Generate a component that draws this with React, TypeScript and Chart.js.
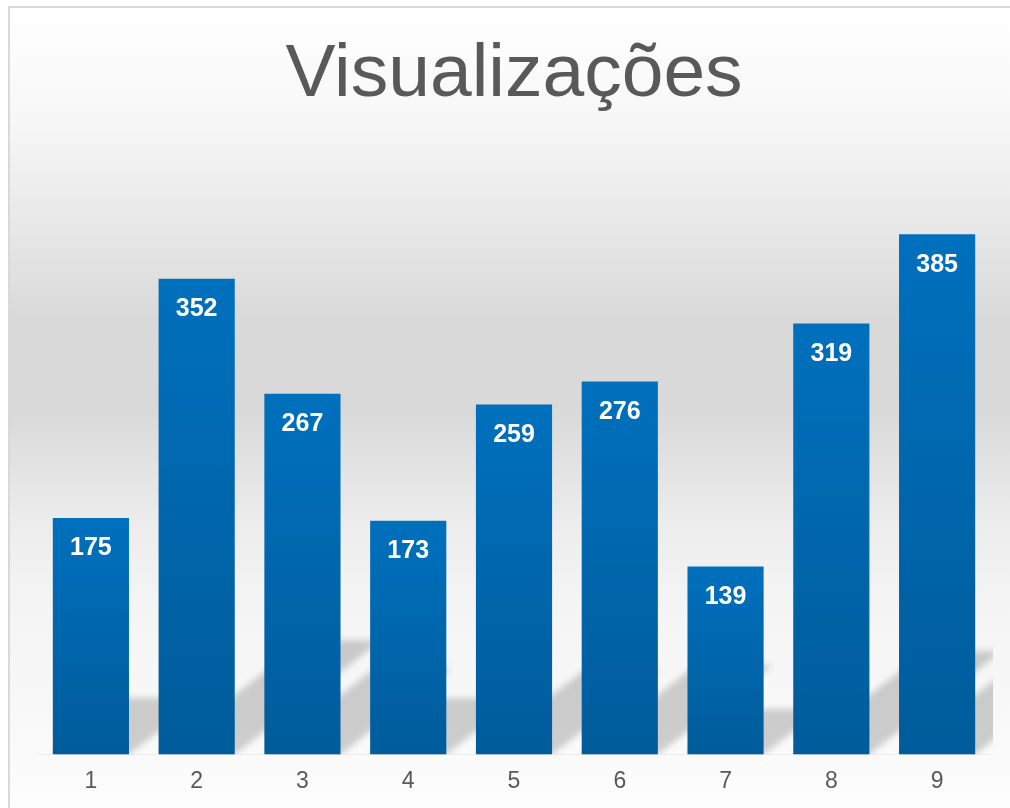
import React, { useEffect, useRef } from "react";
import { Chart, registerables } from "chart.js";

Chart.register(...registerables);

const categories = ["1", "2", "3", "4", "5", "6", "7", "8", "9"];
const views = [175, 352, 267, 173, 259, 276, 139, 319, 385];
const titleText = "Visualizações";
const yMax = 450;

const FONT = "'Liberation Sans', Arial, sans-serif";

const backgroundPlugin = {
  id: "bgFrame",
  beforeDraw(chart: any) {
    const { ctx, width, height } = chart;
    ctx.save();
    ctx.fillStyle = "#ffffff";
    ctx.fillRect(0, 0, width, height);
    const g = ctx.createLinearGradient(0, 8, 0, height);
    const h = height - 8;
    const stop = (y: number) => Math.min(1, Math.max(0, (y - 8) / h));
    g.addColorStop(0, "#ffffff");
    g.addColorStop(stop(120), "#f7f7f7");
    g.addColorStop(stop(250), "#e4e4e4");
    g.addColorStop(stop(320), "#d9d9d9");
    g.addColorStop(stop(410), "#d9d9d9");
    g.addColorStop(stop(520), "#ececec");
    g.addColorStop(stop(600), "#f4f4f4");
    g.addColorStop(stop(753), "#fafafa");
    g.addColorStop(1, "#fdfdfd");
    ctx.fillStyle = g;
    ctx.fillRect(9, 7, width, height);
    ctx.strokeStyle = "#d9d9d9";
    ctx.lineWidth = 2;
    ctx.strokeRect(9, 7, width + 20, height + 20);
    ctx.restore();
  },
};

const shadowPlugin = {
  id: "barShadows",
  beforeDatasetsDraw(chart: any) {
    const { ctx, chartArea } = chart;
    const meta = chart.getDatasetMeta(0);
    ctx.save();
    ctx.beginPath();
    ctx.rect(chartArea.left, chartArea.top, chartArea.right - chartArea.left + 3, chartArea.bottom - chartArea.top);
    ctx.clip();
    ctx.filter = "blur(3px)";
    ctx.fillStyle = "rgba(0,0,0,0.18)";
    meta.data.forEach((el: any) => {
      const { x, y, base, width } = el.getProps(["x", "y", "base", "width"], true);
      const x0 = x - width / 2;
      const x1 = x + width / 2;
      const hgt = base - y;
      const sh = 0.24 * hgt;
      const off = sh / 0.78;
      ctx.beginPath();
      ctx.moveTo(x0, base);
      ctx.lineTo(x1, base);
      ctx.lineTo(x1 + off, base - sh);
      ctx.lineTo(x0 + off, base - sh);
      ctx.closePath();
      ctx.fill();
    });
    ctx.restore();
  },
};

const labelPlugin = {
  id: "barLabels",
  afterDatasetsDraw(chart: any) {
    const { ctx } = chart;
    const meta = chart.getDatasetMeta(0);
    const data = chart.data.datasets[0].data;
    ctx.save();
    ctx.fillStyle = "#ffffff";
    ctx.font = `bold 25px ${FONT}`;
    ctx.textAlign = "center";
    ctx.textBaseline = "middle";
    meta.data.forEach((el: any, i: number) => {
      const { x, y } = el.getProps(["x", "y"], true);
      ctx.fillText(String(data[i]), x, y + 30.5);
    });
    ctx.restore();
  },
};

export default function App() {
  const ref = useRef<HTMLCanvasElement | null>(null);
  useEffect(() => {
    if (!ref.current) return;
    const chart = new Chart(ref.current, {
      type: "bar",
      data: {
        labels: categories,
        datasets: [
          {
            data: views,
            backgroundColor: (c: any) => {
              const ch = c.chart;
              const ys = ch.scales?.y;
              if (!ys || c.raw == null) return "#0068b0";
              const top = ys.getPixelForValue(c.raw);
              const bot = ys.getPixelForValue(0);
              if (!isFinite(top) || !isFinite(bot) || top === bot) return "#0068b0";
              const g = ch.ctx.createLinearGradient(0, top, 0, bot);
              g.addColorStop(0, "#0070bd");
              g.addColorStop(1, "#005c9b");
              return g;
            },
            borderWidth: 0,
            barPercentage: 0.72,
            categoryPercentage: 1,
          },
        ],
      },
      options: {
        responsive: false,
        animation: false,
        layout: { padding: { left: 38, right: 20, top: 0, bottom: 0 } },
        plugins: {
          legend: { display: false },
          tooltip: { enabled: false },
          title: {
            display: true,
            text: titleText,
            fullSize: false,
            color: "#595959",
            font: { family: FONT, size: 75, weight: "normal" },
            padding: { top: 30, bottom: 26.4 },
          },
        },
        scales: {
          x: {
            grid: { display: false, drawTicks: false },
            border: { display: true, color: "rgba(0,0,0,0.05)" },
            ticks: { color: "#595959", font: { family: FONT, size: 23 }, padding: 13 },
          },
          y: { display: false, min: 0, max: yMax },
        },
      },
      plugins: [backgroundPlugin, shadowPlugin, labelPlugin],
    } as any);
    return () => chart.destroy();
  }, []);
  return (
    <div style={{ position: "fixed", left: 0, top: 0, width: 1010, height: 808 }}>
      <canvas ref={ref} width={1010} height={808} style={{ display: "block" }} />
    </div>
  );
}
